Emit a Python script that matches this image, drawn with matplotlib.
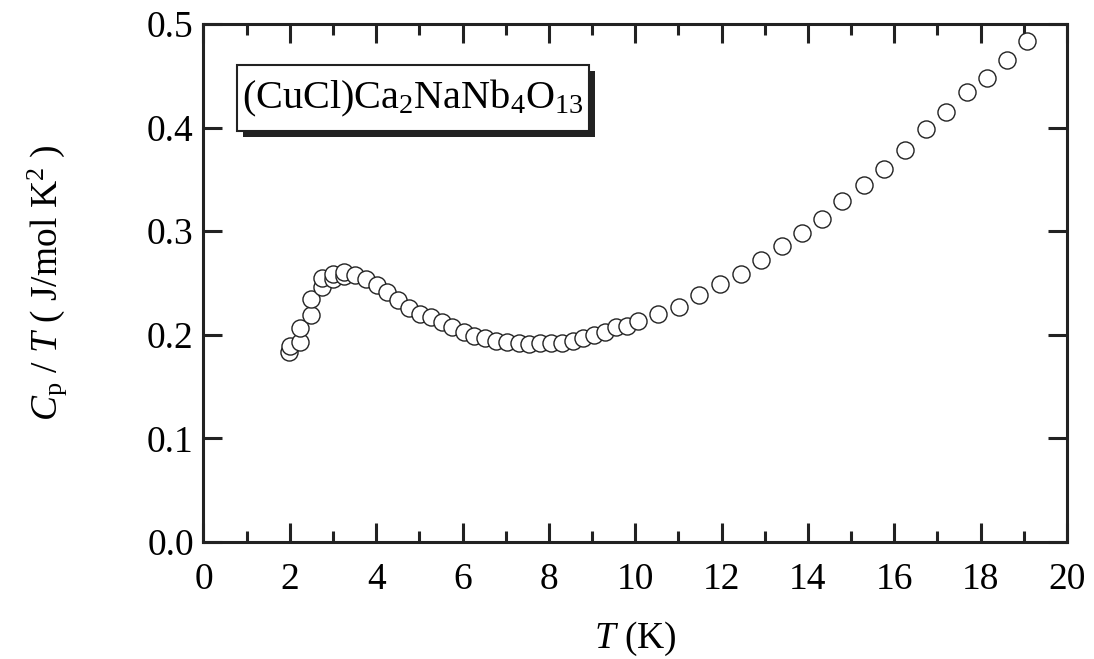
import matplotlib
matplotlib.use("Agg")
import matplotlib.pyplot as plt
from matplotlib.patches import Rectangle
from matplotlib.ticker import MultipleLocator

plt.rcParams['font.family'] = ['Liberation Serif', 'DejaVu Serif']
plt.rcParams['mathtext.fontset'] = 'custom'
plt.rcParams['mathtext.rm'] = 'Liberation Serif'
plt.rcParams['mathtext.it'] = 'Liberation Serif:italic'
plt.rcParams['mathtext.bf'] = 'Liberation Serif:bold'

# Specific heat divided by temperature, Cp/T (J/mol K^2), versus T (K)
temperature = [
    1.99, 2.00, 2.23, 2.23, 2.49, 2.49, 2.74, 2.74, 2.99, 3.01, 3.25, 3.25,
    3.51, 3.76, 4.01, 4.26, 4.50, 4.76, 5.01, 5.26, 5.52, 5.76, 6.03, 6.27,
    6.52, 6.77, 7.04, 7.31, 7.55, 7.79, 8.04, 8.30, 8.55, 8.78, 9.04, 9.30,
    9.55, 9.80, 10.07, 10.53, 11.02, 11.48, 11.96, 12.44, 12.91, 13.39,
    13.86, 14.33, 14.80, 15.29, 15.77, 16.25, 16.73, 17.20, 17.68, 18.15,
    18.62, 19.08,
]
cp_over_t = [
    0.183, 0.189, 0.193, 0.207, 0.219, 0.235, 0.246, 0.255, 0.254, 0.259,
    0.257, 0.261, 0.258, 0.254, 0.248, 0.241, 0.234, 0.226, 0.220, 0.217,
    0.212, 0.208, 0.203, 0.199, 0.197, 0.194, 0.193, 0.192, 0.191, 0.192,
    0.192, 0.192, 0.194, 0.197, 0.200, 0.203, 0.208, 0.209, 0.213, 0.220,
    0.227, 0.238, 0.249, 0.259, 0.272, 0.286, 0.298, 0.312, 0.329, 0.345,
    0.360, 0.378, 0.399, 0.415, 0.434, 0.448, 0.465, 0.484,
]

x_ticks = [0, 2, 4, 6, 8, 10, 12, 14, 16, 18, 20]
y_ticks = [0.0, 0.1, 0.2, 0.3, 0.4, 0.5]
y_tick_labels = ['0.0', '0.1', '0.2', '0.3', '0.4', '0.5']
compound = r'(CuCl)Ca$_2$NaNb$_4$O$_{13}$'

fig = plt.figure(figsize=(10.94, 6.59), dpi=100)
ax = fig.add_axes([0.186, 0.1775, 0.7893, 0.786])

ax.plot(temperature, cp_over_t, linestyle='none', marker='o', markersize=12.3,
        markerfacecolor='white', markeredgecolor='#222222', markeredgewidth=1.0)

ax.set_xlim(0, 20)
ax.set_ylim(0, 0.5)
ax.set_xticks(x_ticks)
ax.set_xticklabels([str(t) for t in x_ticks])
ax.xaxis.set_minor_locator(MultipleLocator(1))
ax.set_yticks(y_ticks)
ax.set_yticklabels(y_tick_labels)

for side in ax.spines.values():
    side.set_linewidth(2.2)
    side.set_color('#222222')

ax.tick_params(which='major', direction='in', length=14, width=2.2,
               top=True, right=True, labelsize=27, color='#222222')
ax.tick_params(axis='x', which='major', pad=15)
ax.tick_params(axis='y', which='major', pad=7)
ax.tick_params(which='minor', direction='in', length=8, width=2.2,
               top=True, right=True, color='#222222')

ax.set_xlabel(r'$T$ (K)', fontsize=27, labelpad=16)
ax.set_ylabel(r'$C_{\rm p}$ / $T$ ( J/mol K$^{2}$ )', fontsize=27, labelpad=56)

# Framed compound label with a drop shadow
bx, by, bw, bh = 0.0385, 0.793, 0.408, 0.128
ax.add_patch(Rectangle((bx + 0.007, by - 0.012), bw, bh, transform=ax.transAxes,
                       facecolor='#222222', edgecolor='none', zorder=4))
ax.add_patch(Rectangle((bx, by), bw, bh, transform=ax.transAxes,
                       facecolor='white', edgecolor='#222222', linewidth=1.5,
                       zorder=5))
ax.text(bx + bw / 2, by + bh / 2, compound, transform=ax.transAxes,
        fontsize=29, ha='center', va='center', zorder=6)

fig.savefig('out.png', dpi=100)
